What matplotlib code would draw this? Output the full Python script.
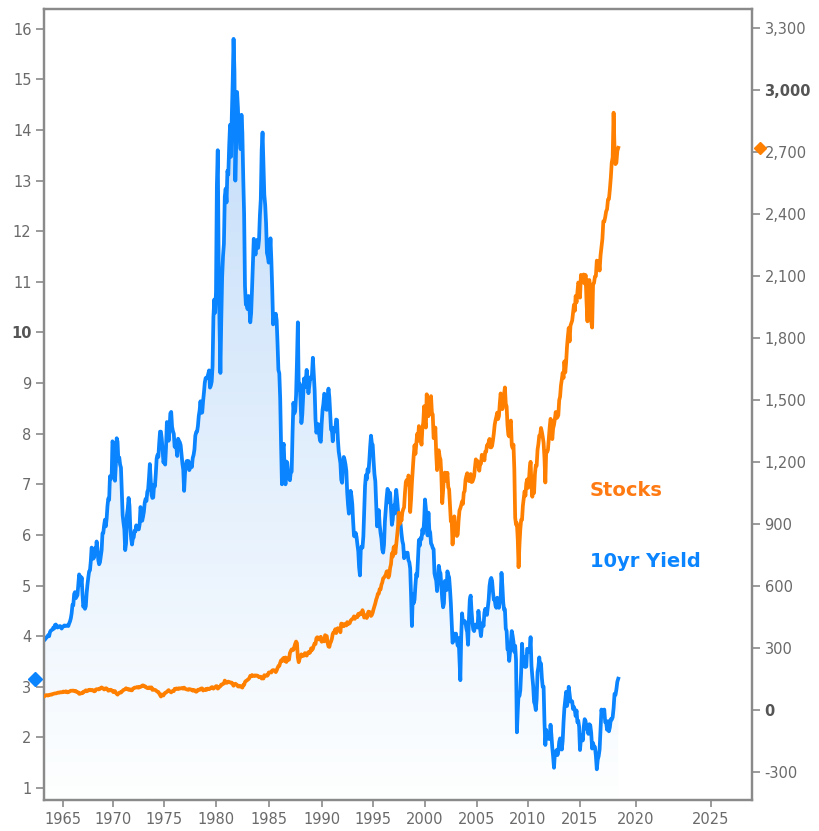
import numpy as np
import matplotlib
matplotlib.use("Agg")
import matplotlib.pyplot as plt
from matplotlib.transforms import blended_transform_factory

first_year = 1963

# 10yr yield, monthly Jan..Dec, one row per year from 1963
yield_rows = [
    [3.90, 3.92, 3.93, 3.97, 3.97, 4.00, 4.02, 4.00, 4.08, 4.11, 4.12, 4.13],
    [4.17, 4.15, 4.22, 4.23, 4.20, 4.17, 4.19, 4.19, 4.20, 4.19, 4.15, 4.18],
    [4.19, 4.21, 4.21, 4.20, 4.21, 4.21, 4.20, 4.25, 4.29, 4.35, 4.45, 4.62],
    [4.61, 4.83, 4.87, 4.75, 4.78, 4.81, 5.02, 5.22, 5.18, 5.01, 5.16, 4.84],
    [4.58, 4.63, 4.54, 4.59, 4.85, 5.02, 5.16, 5.28, 5.30, 5.48, 5.75, 5.70],
    [5.53, 5.56, 5.74, 5.64, 5.87, 5.72, 5.50, 5.42, 5.46, 5.58, 5.70, 6.03],
    [6.04, 6.19, 6.30, 6.17, 6.32, 6.57, 6.72, 6.69, 7.16, 7.10, 7.14, 7.85],
    [7.80, 7.24, 7.07, 7.39, 7.91, 7.84, 7.46, 7.53, 7.39, 7.33, 6.84, 6.39],
    [6.24, 6.11, 5.70, 5.83, 6.39, 6.52, 6.73, 6.58, 6.14, 5.93, 5.81, 5.93],
    [5.95, 6.08, 6.07, 6.19, 6.13, 6.11, 6.11, 6.21, 6.55, 6.48, 6.28, 6.36],
    [6.46, 6.64, 6.71, 6.67, 6.85, 6.90, 7.13, 7.40, 7.09, 6.79, 6.73, 6.74],
    [6.99, 6.96, 7.21, 7.51, 7.58, 7.54, 7.81, 8.04, 8.04, 7.90, 7.68, 7.43],
    [7.50, 7.39, 7.73, 8.23, 8.06, 7.86, 8.06, 8.40, 8.43, 8.14, 8.05, 8.00],
    [7.74, 7.79, 7.73, 7.56, 7.90, 7.86, 7.83, 7.77, 7.59, 7.41, 7.29, 6.87],
    [7.21, 7.39, 7.46, 7.37, 7.46, 7.28, 7.33, 7.40, 7.34, 7.52, 7.58, 7.69],
    [7.96, 8.03, 8.04, 8.15, 8.35, 8.46, 8.64, 8.41, 8.42, 8.64, 8.81, 9.01],
    [9.10, 9.10, 9.12, 9.18, 9.25, 8.91, 8.95, 9.03, 9.33, 10.30, 10.65, 10.39],
    [10.80, 12.90, 13.60, 11.47, 10.18, 9.20, 10.25, 11.10, 11.51, 11.75, 12.68, 12.84],
    [12.57, 13.19, 13.12, 13.68, 14.10, 13.47, 14.28, 14.94, 15.80, 15.15, 13.00, 13.72],
    [14.75, 14.43, 13.86, 13.87, 13.62, 14.30, 13.95, 13.06, 12.34, 10.91, 10.55, 10.54],
    [10.46, 10.72, 10.51, 10.20, 10.38, 10.85, 11.38, 11.85, 11.65, 11.54, 11.69, 11.83],
    [11.67, 11.84, 12.32, 12.63, 13.60, 13.95, 13.36, 12.72, 12.52, 12.16, 11.57, 11.50],
    [11.38, 11.51, 11.86, 11.43, 10.85, 10.16, 10.31, 10.33, 10.37, 10.24, 9.78, 9.26],
    [9.19, 8.70, 7.78, 7.00, 7.71, 7.80, 7.30, 7.00, 7.45, 7.43, 7.25, 7.11],
    [7.08, 7.25, 7.25, 8.02, 8.61, 8.40, 8.45, 8.76, 9.42, 10.20, 8.86, 8.99],
    [8.67, 8.21, 8.37, 8.72, 9.09, 8.92, 9.06, 9.26, 8.98, 8.80, 8.96, 9.11],
    [9.09, 9.17, 9.50, 9.18, 8.86, 8.28, 8.02, 8.11, 8.19, 8.01, 7.87, 7.84],
    [8.21, 8.47, 8.59, 8.79, 8.76, 8.48, 8.47, 8.75, 8.89, 8.72, 8.39, 8.08],
    [8.09, 7.85, 8.11, 8.04, 8.07, 8.28, 8.27, 7.90, 7.65, 7.53, 7.42, 7.09],
    [7.03, 7.34, 7.54, 7.48, 7.39, 7.26, 6.84, 6.59, 6.42, 6.59, 6.87, 6.77],
    [6.60, 6.26, 5.98, 5.97, 6.04, 5.96, 5.81, 5.68, 5.36, 5.20, 5.72, 5.77],
    [5.75, 5.97, 6.48, 6.97, 7.18, 7.10, 7.30, 7.24, 7.46, 7.74, 7.96, 7.81],
    [7.78, 7.47, 7.20, 7.06, 6.63, 6.17, 6.28, 6.49, 6.20, 6.04, 5.93, 5.71],
    [5.65, 5.81, 6.27, 6.51, 6.74, 6.91, 6.87, 6.64, 6.83, 6.53, 6.20, 6.30],
    [6.58, 6.42, 6.69, 6.89, 6.71, 6.49, 6.22, 6.30, 6.21, 6.03, 5.88, 5.81],
    [5.54, 5.57, 5.65, 5.64, 5.65, 5.50, 5.46, 5.34, 4.81, 4.20, 4.83, 4.65],
    [4.72, 5.00, 5.23, 5.18, 5.54, 5.90, 5.79, 5.94, 5.92, 6.11, 6.03, 6.28],
    [6.70, 6.52, 6.26, 5.99, 6.44, 6.10, 6.05, 5.83, 5.80, 5.74, 5.72, 5.24],
    [5.16, 5.10, 4.89, 5.14, 5.39, 5.28, 5.24, 4.97, 4.73, 4.57, 4.65, 5.09],
    [5.04, 4.91, 5.28, 5.21, 5.16, 4.93, 4.65, 4.26, 3.87, 3.94, 4.05, 4.03],
    [4.05, 3.90, 3.81, 3.96, 3.57, 3.13, 3.98, 4.45, 4.27, 4.29, 4.30, 4.27],
    [4.15, 4.08, 3.83, 4.35, 4.72, 4.80, 4.50, 4.28, 4.13, 4.10, 4.19, 4.23],
    [4.22, 4.17, 4.50, 4.34, 4.14, 4.00, 4.18, 4.26, 4.20, 4.46, 4.54, 4.47],
    [4.42, 4.57, 4.72, 4.99, 5.11, 5.15, 5.09, 4.88, 4.72, 4.73, 4.60, 4.56],
    [4.76, 4.72, 4.56, 4.69, 4.75, 5.25, 5.00, 4.67, 4.52, 4.53, 4.15, 4.10],
    [3.74, 3.74, 3.51, 3.68, 3.88, 4.10, 4.01, 3.89, 3.69, 3.81, 3.53, 2.10],
    [2.52, 2.87, 2.82, 2.93, 3.29, 3.85, 3.56, 3.59, 3.40, 3.39, 3.40, 3.75],
    [3.73, 3.69, 3.73, 3.98, 3.42, 3.20, 3.01, 2.70, 2.65, 2.54, 2.76, 3.29],
    [3.39, 3.58, 3.41, 3.46, 3.17, 3.00, 3.00, 2.30, 1.85, 2.15, 2.01, 1.98],
    [1.97, 1.97, 2.25, 2.05, 1.80, 1.62, 1.40, 1.68, 1.72, 1.75, 1.65, 1.72],
    [1.91, 1.98, 1.96, 1.76, 1.93, 2.30, 2.58, 2.74, 2.90, 2.62, 2.72, 3.00],
    [2.86, 2.71, 2.72, 2.71, 2.56, 2.60, 2.54, 2.42, 2.53, 2.30, 2.33, 2.21],
    [1.75, 1.98, 2.04, 1.94, 2.20, 2.36, 2.32, 2.17, 2.17, 2.07, 2.26, 2.24],
    [2.09, 1.78, 1.89, 1.81, 1.81, 1.64, 1.37, 1.56, 1.63, 1.76, 2.14, 2.55],
    [2.43, 2.42, 2.55, 2.30, 2.30, 2.15, 2.32, 2.12, 2.20, 2.36, 2.35, 2.40],
    [2.58, 2.86, 2.84, 2.95, 3.10, 3.16],
]

# Stocks (S&P 500), monthly Jan..Dec, one row per year from 1963
stock_rows = [
    [66, 64, 67, 70, 71, 69, 69, 72, 72, 74, 73, 75],
    [77, 78, 79, 79, 80, 82, 83, 82, 84, 85, 84, 85],
    [88, 87, 86, 89, 88, 84, 85, 87, 90, 92, 92, 92],
    [93, 91, 89, 91, 86, 85, 84, 77, 77, 80, 80, 80],
    [87, 87, 90, 94, 89, 91, 95, 94, 97, 94, 94, 96],
    [92, 89, 90, 98, 99, 100, 98, 99, 103, 103, 108, 104],
    [103, 98, 102, 104, 103, 98, 92, 96, 93, 97, 94, 92],
    [85, 90, 90, 82, 77, 73, 78, 82, 84, 83, 87, 92],
    [96, 97, 100, 104, 100, 100, 96, 99, 98, 94, 94, 102],
    [104, 107, 107, 108, 110, 107, 107, 111, 111, 112, 117, 118],
    [116, 112, 112, 107, 105, 104, 108, 104, 108, 108, 96, 98],
    [97, 96, 94, 90, 87, 86, 79, 72, 64, 74, 70, 69],
    [77, 82, 83, 87, 91, 95, 89, 87, 84, 89, 91, 90],
    [101, 100, 103, 102, 100, 104, 103, 103, 105, 103, 102, 107],
    [102, 100, 98, 98, 96, 100, 99, 97, 97, 92, 95, 95],
    [89, 87, 89, 97, 97, 96, 101, 103, 103, 93, 95, 96],
    [100, 96, 102, 102, 99, 103, 104, 109, 109, 102, 106, 108],
    [114, 114, 102, 106, 111, 114, 122, 122, 125, 127, 141, 136],
    [130, 131, 136, 133, 133, 131, 131, 123, 116, 122, 126, 123],
    [120, 113, 112, 116, 112, 110, 107, 120, 120, 134, 139, 141],
    [145, 148, 153, 164, 162, 168, 163, 164, 166, 164, 166, 165],
    [163, 157, 159, 160, 151, 153, 151, 167, 166, 166, 164, 167],
    [180, 181, 181, 180, 190, 192, 191, 189, 182, 190, 202, 211],
    [212, 227, 239, 236, 247, 251, 236, 253, 231, 244, 249, 242],
    [274, 284, 292, 288, 290, 304, 319, 330, 322, 252, 230, 247],
    [257, 268, 259, 261, 262, 274, 272, 262, 272, 279, 274, 278],
    [297, 289, 295, 310, 321, 318, 346, 351, 349, 340, 346, 353],
    [329, 332, 340, 331, 361, 358, 356, 323, 306, 304, 322, 330],
    [344, 367, 375, 375, 390, 371, 388, 395, 388, 392, 375, 417],
    [409, 413, 404, 415, 415, 408, 424, 414, 418, 419, 431, 436],
    [439, 443, 452, 440, 450, 451, 448, 464, 459, 468, 462, 466],
    [482, 467, 446, 451, 457, 444, 458, 475, 463, 472, 454, 459],
    [470, 487, 501, 515, 533, 545, 562, 562, 584, 582, 605, 616],
    [636, 640, 646, 654, 669, 671, 640, 652, 687, 705, 757, 741],
    [786, 791, 757, 801, 848, 885, 954, 899, 947, 915, 955, 970],
    [980, 1049, 1102, 1112, 1091, 1134, 1121, 957, 1017, 1099, 1164, 1229],
    [1280, 1238, 1286, 1335, 1302, 1373, 1329, 1320, 1283, 1363, 1389, 1469],
    [1394, 1366, 1527, 1452, 1421, 1455, 1431, 1518, 1437, 1429, 1315, 1320],
    [1366, 1240, 1160, 1249, 1256, 1224, 1211, 1134, 1000, 1060, 1139, 1148],
    [1130, 1107, 1147, 1077, 1067, 990, 912, 916, 800, 886, 936, 880],
    [856, 841, 848, 917, 964, 975, 990, 1008, 996, 1051, 1058, 1112],
    [1131, 1145, 1126, 1107, 1121, 1141, 1102, 1104, 1115, 1130, 1174, 1212],
    [1181, 1204, 1181, 1157, 1192, 1191, 1234, 1220, 1229, 1207, 1249, 1248],
    [1280, 1281, 1295, 1311, 1270, 1270, 1277, 1304, 1336, 1378, 1401, 1418],
    [1438, 1407, 1421, 1482, 1531, 1503, 1455, 1474, 1527, 1560, 1481, 1468],
    [1379, 1331, 1323, 1386, 1400, 1280, 1267, 1283, 1166, 930, 896, 903],
    [826, 690, 798, 873, 919, 919, 987, 1021, 1057, 1036, 1096, 1115],
    [1074, 1104, 1169, 1200, 1089, 1031, 1102, 1049, 1141, 1183, 1181, 1258],
    [1286, 1327, 1326, 1364, 1345, 1321, 1292, 1219, 1100, 1253, 1247, 1258],
    [1312, 1366, 1408, 1398, 1310, 1362, 1379, 1407, 1441, 1412, 1416, 1426],
    [1498, 1515, 1569, 1598, 1631, 1606, 1686, 1633, 1682, 1757, 1806, 1848],
    [1783, 1859, 1872, 1884, 1924, 1960, 1931, 2003, 1972, 2018, 2068, 2059],
    [1995, 2105, 2068, 2086, 2107, 2063, 2104, 1972, 1880, 2079, 2080, 2044],
    [1880, 1850, 2060, 2065, 2097, 2099, 2174, 2171, 2168, 2126, 2199, 2239],
    [2279, 2364, 2363, 2384, 2412, 2423, 2470, 2472, 2519, 2575, 2648, 2674],
    [2890, 2714, 2641, 2648, 2705, 2720],
]

yield_last = 3.16   # value marker on the left axis
stock_last = 2720   # value marker on the right axis

year_ticks = list(range(1965, 2030, 5))
yield_ticks = list(range(1, 17))
stock_ticks = list(range(-300, 3301, 300))

yields = np.concatenate([np.array(r, float) for r in yield_rows])
stocks = np.concatenate([np.array(r, float) for r in stock_rows])
yield_x = first_year + np.arange(len(yields)) / 12
stock_x = first_year + np.arange(len(stocks)) / 12

# the date axis is not evenly spaced: tie each tick year to its pixel column
tick_px = [63.3, 113.3, 164.3, 216, 268.7, 321.7, 372.7, 425, 476.7, 528, 580, 636, 711]
anchor_years = [1950] + year_ticks + [2040]
anchor_px = [63.3 - 150] + tick_px + [711 + 225]


def fwd(x):
    return np.interp(x, anchor_years, anchor_px)


def inv(p):
    return np.interp(p, anchor_px, anchor_years)


BLUE = "#0a84ff"
ORANGE = "#ff8000"
SPINE = "#8a8a8a"
LABEL = "#6a6a6a"

plt.rcParams["font.family"] = ["DejaVu Sans"]

fig = plt.figure(figsize=(8.19, 8.31), dpi=100)
ax = fig.add_axes([44 / 819, 31 / 831, 708 / 819, 791 / 831])
ax.set_xscale("function", functions=(fwd, inv))
ax2 = ax.twinx()

y_lo, y_hi = 0.763, 16.39
s_lo, s_hi = -437, 3392

# gradient fill under the yield line
top = np.array([190, 218, 249]) / 255
bot = np.array([254, 255, 255]) / 255
g = np.linspace(0, 1, 256)[:, None, None]
grad = bot + (top - bot) * g
poly = ax.fill_between(yield_x, yields, y_lo, facecolor="none", edgecolor="none")
im = ax.imshow(grad, extent=(0, 1, 0, 1), transform=ax.transAxes,
               aspect="auto", origin="lower", zorder=1, interpolation="bilinear")
im.set_clip_path(poly.get_paths()[0], ax.transData)

ax.plot(yield_x, yields, color=BLUE, lw=2.7, zorder=3)
ax2.plot(stock_x, stocks, color=ORANGE, lw=2.7, zorder=3)

ax.set_xlim(inv(44), inv(752))
ax.set_ylim(y_lo, y_hi)
ax2.set_ylim(s_lo, s_hi)

ax.set_xticks(year_ticks, labels=[str(t) for t in year_ticks])
ax.set_yticks(yield_ticks, labels=[str(t) for t in yield_ticks])
ax2.set_yticks(stock_ticks, labels=[f"{t:,}" for t in stock_ticks])

for a in (ax, ax2):
    for sp in a.spines.values():
        sp.set_color(SPINE)
        sp.set_linewidth(1.6)
    a.tick_params(direction="out", length=6, width=1.2, color=SPINE,
                  labelcolor=LABEL, labelsize=10.5, pad=3)
ax.tick_params(axis="x", length=5, pad=4)

for t in ax.get_yticklabels():
    if t.get_text() == "10":
        t.set_fontweight("bold")
        t.set_color("#555555")
for t in ax2.get_yticklabels():
    if t.get_text() in ("3,000", "0"):
        t.set_fontweight("bold")
        t.set_color("#555555")

# last-value markers on both axes
tl = blended_transform_factory(ax.transAxes, ax.transData)
ax.plot([-9 / 708], [yield_last], marker="D", ms=7, color=BLUE,
        transform=tl, clip_on=False, zorder=6)
tr = blended_transform_factory(ax2.transAxes, ax2.transData)
ax2.plot([1 + 8 / 708], [stock_last], marker="D", ms=6.5, color=ORANGE,
         transform=tr, clip_on=False, zorder=6)

ax2.text(0.771, 0.391, "Stocks", transform=ax.transAxes, color="#ff7a12",
         fontsize=14, fontweight="bold", va="center", ha="left")
ax2.text(0.771, 0.301, "10yr Yield", transform=ax.transAxes, color=BLUE,
         fontsize=14, fontweight="bold", va="center", ha="left")

fig.savefig("out.png", dpi=100)
